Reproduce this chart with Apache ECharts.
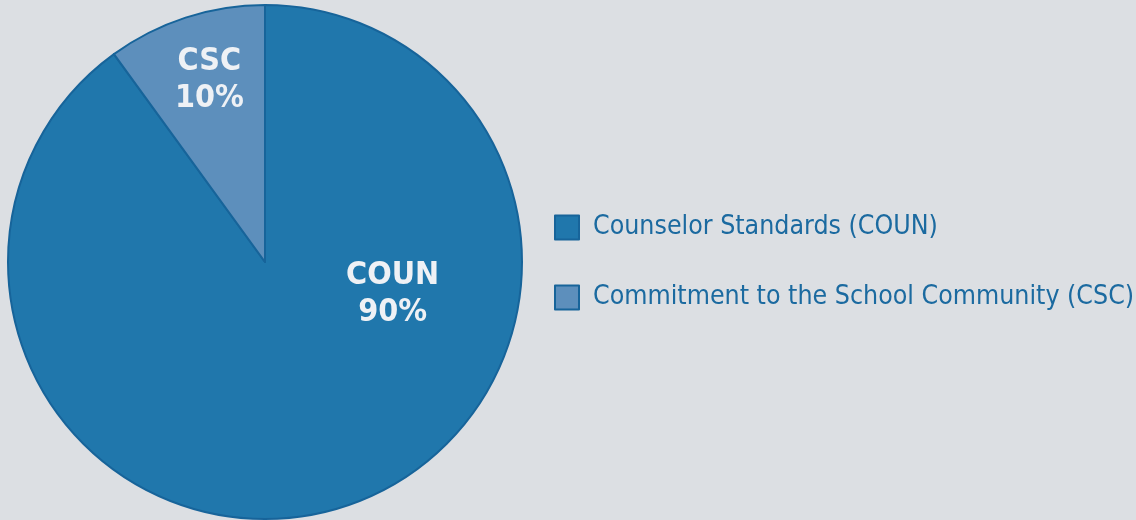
<!DOCTYPE html>
<html>
<head>
<meta charset="utf-8">
<script src="https://cdn.jsdelivr.net/npm/echarts@6/dist/echarts.min.js"></script>
<style>
    html, body { margin: 0; padding: 0; background: #dcdfe3; }
    #pie { width: 1136px; height: 520px; }
</style>
</head>
<body>
<div id="pie"></div>
<script>
var names = ['Counselor Standards (COUN)', 'Commitment to the School Community (CSC)'];
var shortNames = ['COUN', 'CSC'];
var values = [90, 10];
var colors = ['#2077ac', '#5d8fbc'];
// nudges from the default inside spot to where the labels sit in the original
var labelOffsets = [[87, -93], [-15, -57]];

var font = '"Liberation Sans Narrow", "DejaVu Sans Condensed", sans-serif';

var data = [];
for (var i = 0; i < names.length; i++) {
    data.push({
        name: names[i],
        value: values[i],
        itemStyle: { color: colors[i] },
        label: { offset: labelOffsets[i] }
    });
}

var opts = {
    backgroundColor: '#dcdfe3',
    animation: false,
    legend: {
        orient: 'vertical',
        left: 549,
        top: 209,
        icon: 'rect',
        itemWidth: 24,
        itemHeight: 24,
        itemGap: 43,
        textStyle: {
            color: '#1b6aa0',
            fontFamily: font,
            fontSize: 26.5,
            lineHeight: 24,
            padding: [0, 0, 0, 9]
        },
        data: names
    },
    series: [
        {
            type: 'pie',
            center: [265, 262],
            radius: 257,
            startAngle: 90,
            clockwise: true,
            itemStyle: {
                borderColor: '#17649a',
                borderWidth: 2
            },
            label: {
                show: true,
                position: 'inside',
                color: '#eef1f5',
                fontFamily: font,
                fontWeight: 'bold',
                fontSize: 32,
                lineHeight: 37,
                align: 'center',
                formatter: function (p) {
                    return shortNames[p.dataIndex] + '\n' + p.value + '%';
                }
            },
            labelLine: { show: false },
            emphasis: { disabled: true },
            data: data
        }
    ]
};

echarts.init(document.getElementById('pie')).setOption(opts);
</script>
</body>
</html>
